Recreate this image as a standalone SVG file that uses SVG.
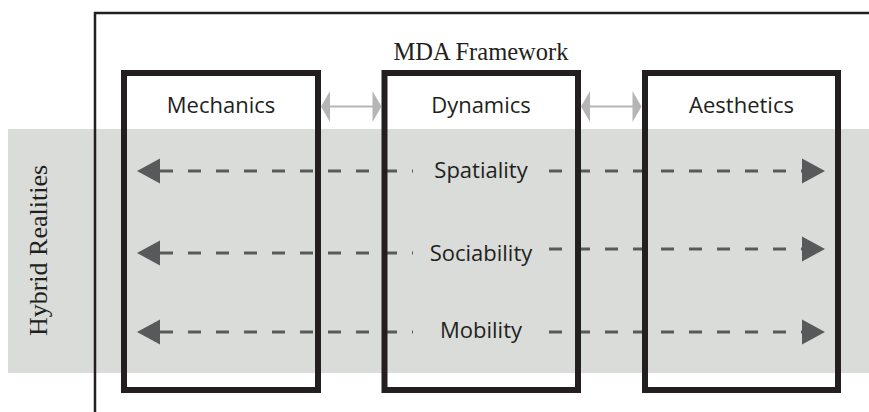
<svg xmlns="http://www.w3.org/2000/svg" width="869" height="412" viewBox="0 0 869 412">
<style>
.box{fill:none;stroke:#231f20;stroke-width:6}
.lbl{font-family:"Open Sans","Noto Sans",sans-serif;font-size:22px;fill:#231f20;text-anchor:middle}
.serif{font-family:"Liberation Serif","Times New Roman",serif;fill:#231f20;text-anchor:middle}
.dash{stroke:#58595b;stroke-width:3;stroke-dasharray:13 15;fill:none}
.gline{stroke:#b5b5b5;stroke-width:2;fill:none}
.ghead{fill:#b5b5b5}
.dhead{fill:#58595b}
</style>
<rect x="8" y="129" width="861" height="244" fill="#dadcda"/>
<g id="frame">
<polyline points="95,412 95,13 869,13" fill="none" stroke="#231f20" stroke-width="2.5"/>
<text class="serif" x="481" y="60" font-size="24.5">MDA Framework</text>
</g>
<g id="hybrid">
<text class="serif" font-size="26" transform="translate(47,250.5) rotate(-90)">Hybrid Realities</text>
</g>
<g id="connectors">
<line class="dash" x1="160" y1="171" x2="413" y2="171"/>
<line class="dash" x1="549" y1="171" x2="803" y2="171"/>
<line class="dash" x1="160" y1="253" x2="413" y2="253"/>
<line class="dash" x1="549" y1="249" x2="803" y2="249"/>
<line class="dash" x1="160" y1="332" x2="413" y2="332"/>
<line class="dash" x1="549" y1="332" x2="803" y2="332"/>
<polygon class="dhead" points="137,171 160,158.5 160,183.5"/>
<polygon class="dhead" points="825,171 802,158.5 802,183.5"/>
<polygon class="dhead" points="137,253 160,240.5 160,265.5"/>
<polygon class="dhead" points="825,249 802,236.5 802,261.5"/>
<polygon class="dhead" points="137,332 160,319.5 160,344.5"/>
<polygon class="dhead" points="825,332 802,319.5 802,344.5"/>
<line class="gline" x1="325" y1="106.5" x2="377" y2="106.5"/>
<polygon class="ghead" points="321,106.5 330,91 330,122"/>
<polygon class="ghead" points="381.5,106.5 372.5,91 372.5,122"/>
<line class="gline" x1="585" y1="106.5" x2="637" y2="106.5"/>
<polygon class="ghead" points="581,106.5 590,91 590,122"/>
<polygon class="ghead" points="641.5,106.5 632.5,91 632.5,122"/>
</g>
<g id="mechanics">
<rect class="box" x="124" y="73" width="194" height="317"/>
<text class="lbl" x="221" y="113">Mechanics</text>
</g>
<g id="dynamics">
<rect class="box" x="384.5" y="73" width="193.5" height="317"/>
<text class="lbl" x="481" y="113">Dynamics</text>
</g>
<g id="aesthetics">
<rect class="box" x="645" y="73" width="193" height="317"/>
<text class="lbl" x="741.5" y="113">Aesthetics</text>
</g>
<g id="spatiality"><text class="lbl" x="481" y="178">Spatiality</text></g>
<g id="sociability"><text class="lbl" x="481" y="261">Sociability</text></g>
<g id="mobility"><text class="lbl" x="481" y="338">Mobility</text></g>
</svg>
